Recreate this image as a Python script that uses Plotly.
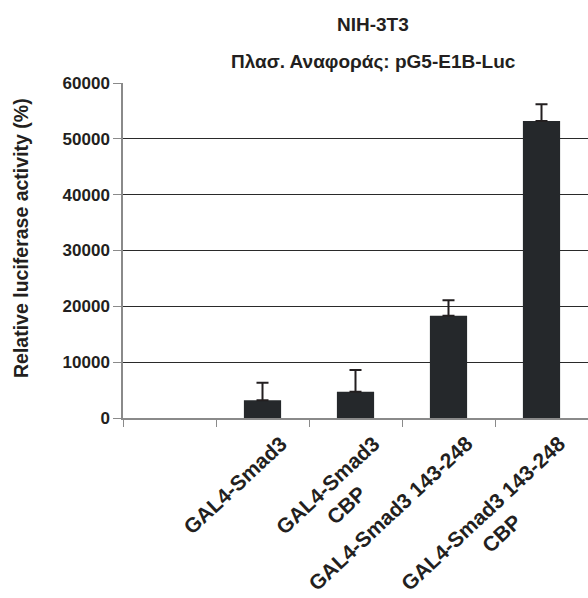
import math
import plotly.graph_objects as go

# Luciferase reporter assay, NIH-3T3 cells
categories = [
    " ",
    "GAL4-Smad3",
    "GAL4-Smad3<br>CBP",
    "GAL4-Smad3 143-248",
    "GAL4-Smad3 143-248<br>CBP",
]
activity = [None, 3200, 4700, 18300, 53200]
error_up = [None, 3100, 3900, 2800, 3000]
y_ticks = [0, 10000, 20000, 30000, 40000, 50000, 60000]

font_family = "Liberation Sans, Arial, sans-serif"
ink = "#231f20"

# plot area in pixels
L, T, W, H = 123, 83, 465, 335

fig = go.Figure()
fig.add_trace(go.Bar(
    x=categories,
    y=activity,
    width=0.4,
    marker=dict(color="#25282b", line=dict(width=0)),
    error_y=dict(type="data", symmetric=False, array=error_up,
                 arrayminus=[0] * len(error_up),
                 color=ink, thickness=2, width=6),
))

annotations = [
    dict(text="NIH-3T3", x=(373 - L) / W, y=1, xref="paper", yref="paper",
         xanchor="center", yanchor="middle", yshift=59,
         showarrow=False, font=dict(size=19, weight="bold")),
    dict(text="Πλασ. Αναφοράς: pG5-E1B-Luc", x=(373 - L) / W, y=1,
         xref="paper", yref="paper", xanchor="center", yanchor="middle",
         yshift=22, showarrow=False, font=dict(size=19, weight="bold")),
    dict(text="Relative luciferase activity (%)", textangle=-90,
         x=(21 - L) / W, y=(T + H - 238) / H, xref="paper", yref="paper",
         xanchor="center", yanchor="middle", showarrow=False,
         font=dict(size=19.5, weight="bold")),
]

# slanted category labels under the x axis: the end of the first line sits
# just right of the category centre, so shift the rotated box accordingly
label_size = 21
label_angle = 43
for cat in categories:
    if not cat.strip():
        continue
    n_lines = cat.count("<br>") + 1
    box_h = n_lines * 1.3 * label_size + 2
    shift = 11 + math.sin(math.radians(label_angle)) * box_h
    annotations.append(dict(
        text=cat, x=cat, xref="x", y=0, yref="paper",
        xanchor="right", yanchor="top", xshift=shift, yshift=-11,
        textangle=-label_angle, align="center", showarrow=False,
        font=dict(size=label_size, color=ink, weight="bold"),
    ))

fig.update_layout(
    width=588, height=598,
    margin=dict(l=L, r=588 - L - W, t=T, b=598 - T - H),
    paper_bgcolor="white", plot_bgcolor="white",
    showlegend=False,
    font=dict(family=font_family, color=ink, size=17),
    annotations=annotations,
)

fig.update_xaxes(
    type="category", categoryorder="array", categoryarray=categories,
    range=[-0.5, 4.5], automargin=False,
    showline=True, linecolor="#8a8a8a", linewidth=1.5,
    ticks="outside", tickson="boundaries", ticklen=7, tickcolor="#8a8a8a",
    showticklabels=False,
    showgrid=False, zeroline=False,
)
fig.update_yaxes(
    range=[0, 60000], tickvals=y_ticks, automargin=False,
    ticktext=[str(v) for v in y_ticks],
    showline=True, linecolor="#8a8a8a", linewidth=1.5,
    ticks="outside", ticklen=8, tickcolor="#8a8a8a",
    showgrid=True, gridcolor="#2a2a2a", gridwidth=1,
    zeroline=False,
    tickfont=dict(size=17, weight="bold", color=ink),
)

fig.write_html("out.html")
